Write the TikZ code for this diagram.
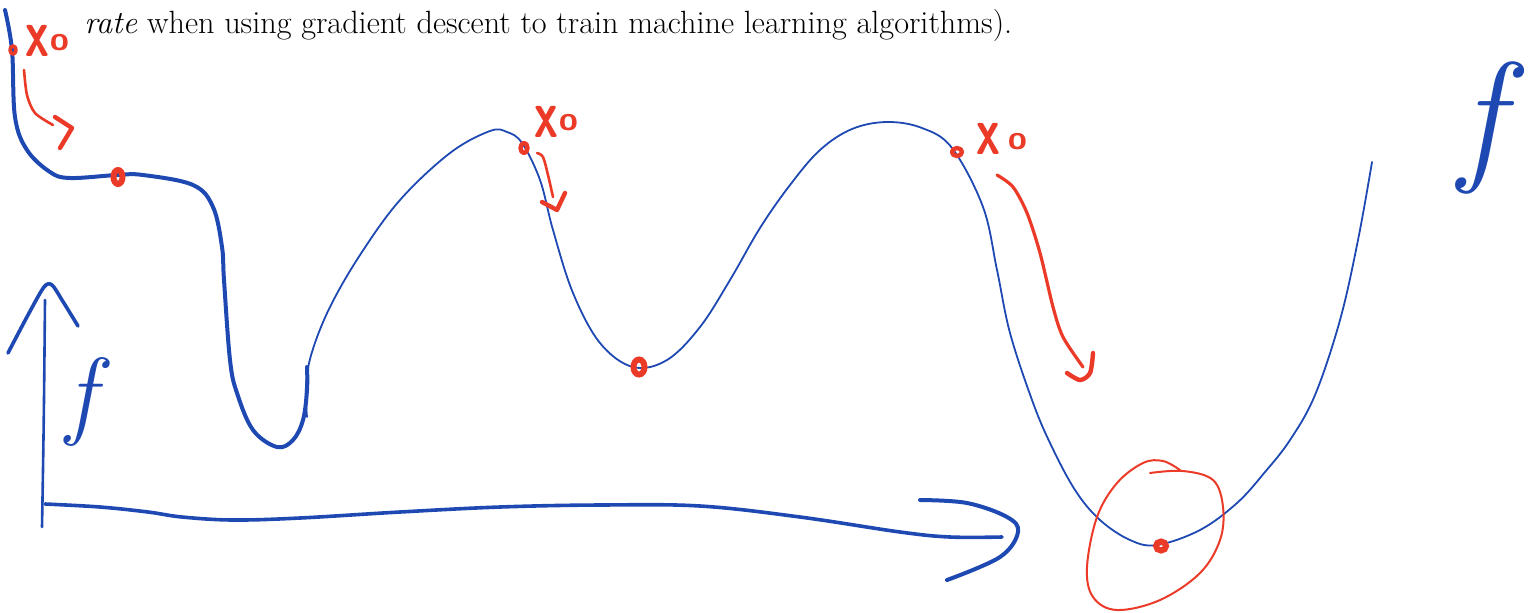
\documentclass[tikz,border=0pt]{standalone}
\definecolor{penblue}{RGB}{30,72,178}
\definecolor{penred}{RGB}{235,58,40}
\begin{document}
\begin{tikzpicture}[x=0.5pt,y=-0.5pt,
  thickblue/.style={penblue,line width=2pt,line cap=round,line join=round},
  thinblue/.style={penblue,line width=0.9pt,line cap=round,line join=round},
  axispen/.style={penblue,line width=1.8pt,line cap=round,line join=round},
  redpen/.style={penred,line width=1.3pt,line cap=round,line join=round},
  redtip/.style={penred,line width=2.2pt,line cap=round,line join=round},
  reddot/.style={penred,line width=3pt},
  xlab/.style={penred,inner sep=0,font=\sffamily\bfseries\fontsize{34}{34}\selectfont},
  olab/.style={penred,inner sep=0,font=\sffamily\bfseries\fontsize{17}{17}\selectfont},
  flab/.style={penblue,inner sep=0}]
\useasboundingbox (0,0) rectangle (1534,612);

% text line
\node[anchor=base west,inner sep=0,font=\fontsize{16.1}{18}\selectfont] (txt) at (84,33)
  {\textit{rate} when using gradient descent to train machine learning algorithms).};

% thick left part of the curve
\draw[thickblue] plot[smooth,tension=0.6] coordinates {(5,10) (12,50) (15,117) (27,150) (50,172) (70,178) (117,175) (143,175) (193,185) (213,207) (222,247) (224,280) (230,360) (237,393) (253,430) (277,447) (293,440) (303,420) (307,390) (307,367)};

% thin part of the curve
\draw[thinblue] plot[smooth,tension=0.6] coordinates {(307,417) (306,385) (312,352) (330,307) (360,255) (400,200) (450,153) (490,131) (507,132) (522,143) (540,180) (553,230) (573,293) (600,343) (633,367) (667,360) (700,327) (730,280) (760,228) (790,185) (820,150) (852,129) (887,122) (922,128) (952,148) (983,207) (997,270) (1010,333) (1032,400) (1050,443) (1075,490) (1100,520) (1130,540) (1157,545) (1200,530) (1237,503) (1265,472) (1290,440) (1315,395) (1340,320) (1358,240) (1372,162)};

% axes
\draw[axispen,line width=1.3pt] plot[smooth] coordinates {(45,300) (44,400) (43,470) (42,527)};
\draw[axispen] plot[smooth,tension=0.5] coordinates {(8,353) (28,315) (44,287) (52,285) (62,300) (78,326)};
\draw[axispen] plot[smooth,tension=0.6] coordinates {(45,504) (100,507) (148,512) (182,517) (233,520) (300,518) (400,512) (500,507) (600,505) (700,506) (800,517) (900,532) (950,537) (1002,537)};
\draw[thickblue] plot[smooth,tension=0.6] coordinates {(920,500) (967,503) (1007,517) (1018,532) (1000,557) (947,580)};

% f labels
\node[flab,font=\fontsize{49}{49}\selectfont] (faxis) at (88,402) {\textit{f}};
\node[flab,font=\fontsize{73}{73}\selectfont] (fright) at (1492,128) {\textit{f}};

% red markers on curve
\draw[reddot] (118,177) ellipse [x radius=4.5, y radius=7];
\draw[reddot] (639,367) ellipse [x radius=5.5, y radius=7.5];
\draw[reddot] (1161,546) ellipse [x radius=5, y radius=4.5];

% starting points
\draw[redpen,line width=1.8pt] (13,50) ellipse [x radius=3, y radius=4];
\node[xlab] (xa) at (37,41) {\scalebox{0.7}[1]{x}};
\node[olab] (oa) at (60,43) {o};
\draw[redpen,line width=2.2pt] (524,148) ellipse [x radius=3.5, y radius=5];
\node[xlab] (xb) at (546,122) {\scalebox{0.7}[1]{x}};
\node[olab] (ob) at (569,123) {o};
\draw[redpen,line width=2.2pt] (957,152) ellipse [x radius=5, y radius=4];
\node[xlab] (xc) at (988,139) {\scalebox{0.7}[1]{x}};
\node[olab] (oc) at (1018,142) {o};

% red arrows
\draw[redpen] plot[smooth] coordinates {(24,70) (27,95) (35,113) (53,125)};
\draw[redtip] (55,117) -- (72,128) -- (60,148);
\draw[redpen] plot[smooth] coordinates {(537,153) (543,157) (548,175) (553,197)};
\draw[redtip] (542,202) -- (557,210) -- (565,193);
\draw[redpen,line width=1.6pt] plot[smooth] coordinates {(997,175) (1013,187) (1027,213) (1040,253) (1053,307) (1063,337) (1083,367)};
\draw[redtip] plot[smooth] coordinates {(1067,373) (1080,380) (1090,373) (1093,353)};

% circle round the global minimum
\draw[redpen,line width=1pt] plot[smooth,tension=0.6] coordinates {(1150,473) (1183,471) (1213,480) (1223,507) (1220,540) (1200,573) (1160,600) (1117,610) (1093,597) (1087,567) (1097,517) (1117,483) (1143,463) (1163,461) (1180,470)};
\end{tikzpicture}
\end{document}
